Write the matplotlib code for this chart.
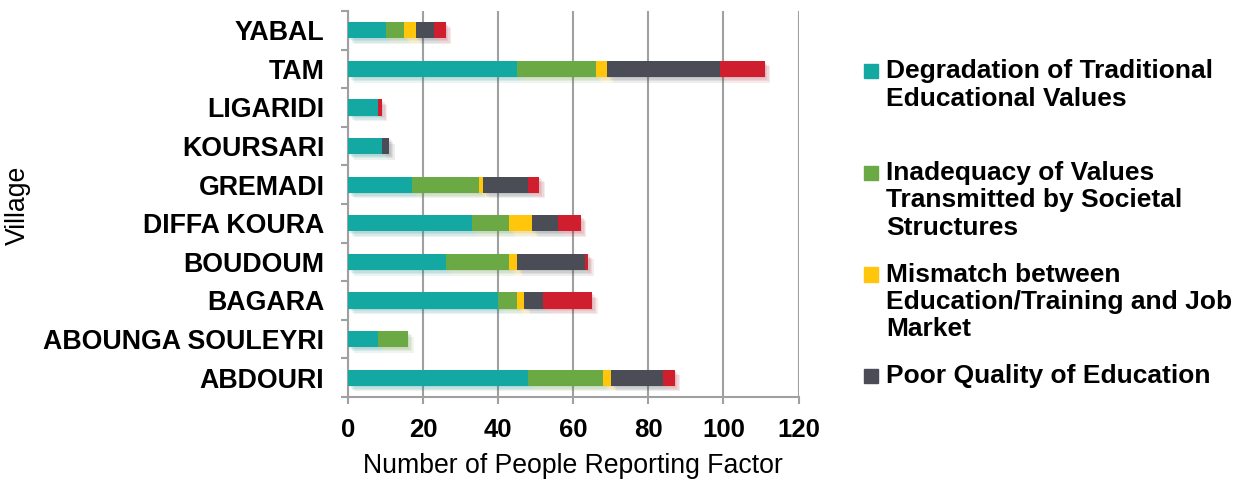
import matplotlib
matplotlib.use("Agg")
import matplotlib.pyplot as plt
import matplotlib.patheffects as pe
from matplotlib.patches import Rectangle

plt.rcParams['font.family'] = ['Liberation Sans', 'DejaVu Sans']

# villages, bottom to top
villages = ["ABDOURI", "ABOUNGA SOULEYRI", "BAGARA", "BOUDOUM", "DIFFA KOURA",
            "GREMADI", "KOURSARI", "LIGARIDI", "TAM", "YABAL"]

degradation = [48, 8, 40, 26, 33, 17, 9, 8, 45, 10]
inadequacy = [20, 8, 5, 17, 10, 18, 0, 0, 21, 5]
mismatch = [2, 0, 2, 2, 6, 1, 0, 0, 3, 3]
poor_quality = [14, 0, 5, 18, 7, 12, 2, 0, 30, 5]
other = [3, 0, 13, 1, 6, 3, 0, 1, 12, 3]

series = [degradation, inadequacy, mismatch, poor_quality, other]
colors = ["#13A8A2", "#6AA943", "#FFC60B", "#4A4D55", "#CF1E2D"]

legend_lines = [
    ["Degradation of Traditional", "Educational Values"],
    ["Inadequacy of Values", "Transmitted by Societal", "Structures"],
    ["Mismatch between", "Education/Training and Job", "Market"],
    ["Poor Quality of Education"],
]

W, H = 1238, 482
fig = plt.figure(figsize=(W / 100, H / 100), dpi=100)
ax = fig.add_axes([348 / W, 1 - 397 / H, 450.5 / W, 386 / H])

# soft drop shadow under each segment
shadow = [pe.SimplePatchShadow(offset=(k, -k), alpha=0.09, rho=0.8) for k in (1, 2, 3, 4)]

ypos = list(range(len(villages)))
left = [0] * len(villages)
for vals, c in zip(series, colors):
    ax.barh(ypos, vals, left=left, height=0.42, color=c, zorder=3,
            path_effects=shadow + [pe.Normal()])
    left = [a + b for a, b in zip(left, vals)]

ax.set_xlim(0, 120)
ax.set_ylim(-0.5, len(villages) - 0.5)
ax.set_xticks(range(0, 121, 20))
ax.set_yticks(ypos)
ax.set_yticklabels(villages, fontsize=19.3, fontweight='bold')
ax.set_yticks([i - 0.5 for i in range(len(villages) + 1)], minor=True)
for lbl in ax.get_xticklabels():
    lbl.set_fontsize(18.5)
    lbl.set_fontweight('bold')

grid_col = "#A0A0A0"
ax.grid(axis='x', color=grid_col, linewidth=1.5, zorder=0)
ax.set_axisbelow(True)
for s in ["top", "right"]:
    ax.spines[s].set_visible(False)
for s in ["left", "bottom"]:
    ax.spines[s].set_color(grid_col)
    ax.spines[s].set_linewidth(1.5)

ax.tick_params(axis='y', which='major', length=0, pad=17)
ax.tick_params(axis='y', which='minor', length=5, width=1.5, color=grid_col)
ax.tick_params(axis='x', which='major', length=5, width=1.5, color=grid_col, pad=10)

ax.set_xlabel("Number of People Reporting Factor", fontsize=19.2, labelpad=8)
fig.text(18 / W, 1 - 205 / H, "Village", fontsize=19.2, rotation=90,
         ha='center', va='center')

# legend drawn by hand: one slot per entry, first four series only
baselines = [78, 180, 281.5, 383]
for lines, c, b in zip(legend_lines, colors, baselines):
    fig.patches.append(Rectangle((864 / W, 1 - b / H), 14 / W, 14.5 / H,
                                 transform=fig.transFigure, color=c))
    for j, line in enumerate(lines):
        fig.text(886 / W, 1 - (b + 27.5 * j) / H, line, fontsize=19,
                 fontweight='bold', va='baseline', ha='left')

fig.savefig("out.png", dpi=100)
